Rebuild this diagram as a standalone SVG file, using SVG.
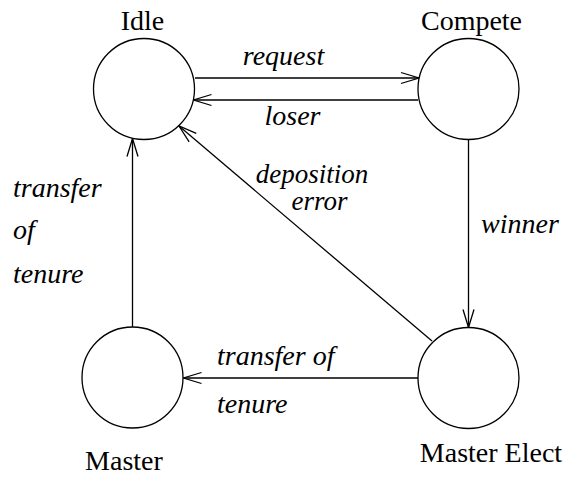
<svg xmlns="http://www.w3.org/2000/svg" width="568" height="477" viewBox="0 0 568 477">
<style>
.node{fill:#fff;stroke:#000;stroke-width:1.3}
.edge{fill:none;stroke:#000;stroke-width:1.3}
.lbl{font-family:"Liberation Serif","Times New Roman",serif;font-size:28px;fill:#000}
.it{font-family:"Liberation Serif","Times New Roman",serif;font-size:28px;font-style:italic;fill:#000}
.sm{font-size:27px}
</style>
<defs>
<marker id="arr" markerUnits="userSpaceOnUse" markerWidth="24" markerHeight="14" viewBox="-20 -7 24 14" refX="0" refY="0" orient="auto">
<path d="M-18,-5.5 L0,0 L-18,5.5" fill="none" stroke="#000" stroke-width="1.3"/>
</marker>
</defs>
<rect width="568" height="477" fill="#fff"/>
<g id="connectors">
<line class="edge" x1="195" y1="78" x2="419" y2="78" marker-end="url(#arr)"/>
<line class="edge" x1="418" y1="100" x2="193.5" y2="100" marker-end="url(#arr)"/>
<line class="edge" x1="132.5" y1="327" x2="132.5" y2="138.5" marker-end="url(#arr)"/>
<line class="edge" x1="468.5" y1="140" x2="468.5" y2="327.5" marker-end="url(#arr)"/>
<line class="edge" x1="418" y1="378" x2="183.5" y2="378" marker-end="url(#arr)"/>
<line class="edge" x1="432" y1="341" x2="179" y2="126" marker-end="url(#arr)"/>
<text class="it" x="283.5" y="65" text-anchor="middle">request</text>
<text class="it" x="292.5" y="125" text-anchor="middle">loser</text>
<text class="it sm" x="312" y="183" text-anchor="middle">deposition</text>
<text class="it sm" x="319.5" y="210" text-anchor="middle">error</text>
<text class="it" x="481" y="233">winner</text>
<text class="it" x="13" y="197">transfer</text>
<text class="it" x="13" y="239">of</text>
<text class="it" x="13" y="283">tenure</text>
<text class="it" x="217" y="365">transfer of</text>
<text class="it" x="217" y="413">tenure</text>
</g>
<g id="idle">
<circle class="node" cx="144" cy="89" r="50.5"/>
<text class="lbl" x="142.5" y="30" text-anchor="middle">Idle</text>
</g>
<g id="compete">
<circle class="node" cx="468.5" cy="89" r="50.5"/>
<text class="lbl" x="471.5" y="30" text-anchor="middle">Compete</text>
</g>
<g id="master">
<circle class="node" cx="132.5" cy="377.5" r="50.5"/>
<text class="lbl" x="124" y="470" text-anchor="middle">Master</text>
</g>
<g id="master-elect">
<circle class="node" cx="468.5" cy="378" r="50.5"/>
<text class="lbl" x="491" y="462" text-anchor="middle">Master Elect</text>
</g>
</svg>
